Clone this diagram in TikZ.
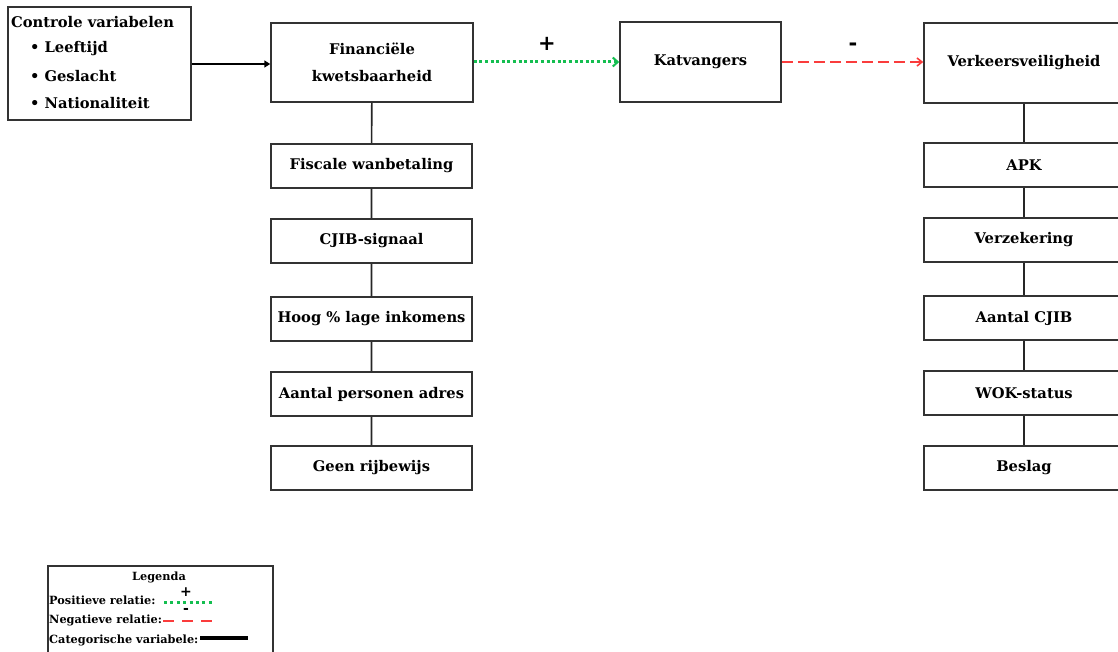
\documentclass[tikz,border=0pt]{standalone}
\usepackage{fontspec}
\setmainfont{DejaVu Serif}
\newfontfamily\signfont{DejaVu Sans}
\usetikzlibrary{arrows.meta}
\definecolor{posgreen}{RGB}{20,190,80}
\definecolor{negred}{RGB}{250,60,60}
\tikzset{
  box/.style={draw=black!80, line width=1.5pt, inner sep=0pt, font=\bfseries\fontsize{14.7}{27}\selectfont, align=center},
  colbox/.style={box, minimum width=201pt, minimum height=44pt},
  txt/.style={inner sep=0pt, font=\bfseries\fontsize{14.7}{17}\selectfont, anchor=west},
  legtxt/.style={inner sep=0pt, font=\bfseries\fontsize{11.3}{13}\selectfont, anchor=west},
  catline/.style={draw=black!85, line width=1.6pt},
  posline/.style={draw=posgreen, line width=3pt, dash pattern=on 3pt off 2.6pt},
  negline/.style={draw=negred, line width=1.9pt, dash pattern=on 11pt off 5pt},
  sign/.style={inner sep=0pt, font=\signfont\bfseries\fontsize{21}{21}\selectfont},
}
\begin{document}
\begin{tikzpicture}[x=1pt,y=-1pt]
\clip (0,0) rectangle (1118,652);
\fill[white] (0,0) rectangle (1118,652);
% control box
\node[draw=black!80, line width=1.5pt, minimum width=183pt, minimum height=113pt, inner sep=0pt] (ctrl) at (99.5,63.5) {};
\node[txt] (ctitle) at (11,22) {Controle variabelen};
\node[txt] (c1) at (30,49) {\textbullet\hspace{5pt}Leeftijd};
\node[txt] (c2) at (30,76) {\textbullet\hspace{5pt}Geslacht};
\node[txt] (c3) at (30,103) {\textbullet\hspace{5pt}Nationaliteit};
% top row
\node[box, minimum width=202pt, minimum height=79pt] (fin) at (372,62.5) {Financi\"ele\\kwetsbaarheid};
\node[box, minimum width=161pt, minimum height=80pt] (kat) at (700.5,62) {Katvangers};
\node[box, minimum width=200pt, minimum height=80pt] (verk) at (1024,63) {Verkeersveiligheid};
% left column
\node[colbox] (fis) at (371.5,166) {Fiscale wanbetaling};
\node[colbox] (cjib) at (371.5,241) {CJIB-signaal};
\node[colbox] (hoog) at (371.5,319) {Hoog \% lage inkomens};
\node[colbox] (aant) at (371.5,394) {Aantal personen adres};
\node[colbox] (geen) at (371.5,468) {Geen rijbewijs};
% right column
\node[colbox, minimum width=200pt] (apk) at (1024,165) {APK};
\node[colbox, minimum width=200pt] (verz) at (1024,240) {Verzekering};
\node[colbox, minimum width=200pt] (acjib) at (1024,318) {Aantal CJIB};
\node[colbox, minimum width=200pt] (wok) at (1024,393) {WOK-status};
\node[colbox, minimum width=200pt] (besl) at (1024,468) {Beslag};
% connectors
\draw[line width=1.6pt, -{Triangle[length=6pt,width=7pt]}] (ctrl.east |- 0,64) -- (fin.west |- 0,64);
\draw[posline, -{Straight Barb[length=5pt,width=9pt,line width=2pt]}] (fin.east |- 0,62) -- (kat.west |- 0,62);
\draw[negline, -{Straight Barb[length=5pt,width=8pt,line width=1.6pt]}] (kat.east |- 0,62) -- (verk.west |- 0,62);
\node[sign] (plus) at (547,44) {+};
\node[sign] (minus) at (853,47) {-};
\draw[catline] (fin) -- (fis) (fis) -- (cjib) (cjib) -- (hoog) (hoog) -- (aant) (aant) -- (geen);
\draw[catline] (verk) -- (apk) (apk) -- (verz) (verz) -- (acjib) (acjib) -- (wok) (wok) -- (besl);
% legend
\node[draw=black!80, line width=1.5pt, minimum width=225pt, minimum height=100pt, inner sep=0pt, anchor=north west] (leg) at (47,565) {};
\node[inner sep=0pt, font=\bfseries\fontsize{11.3}{13}\selectfont] (legt) at (159,577) {Legenda};
\node[legtxt] (lpos) at (49,600) {Positieve relatie:};
\node[legtxt] (lneg) at (49,620) {Negatieve relatie:};
\node[legtxt] (lcat) at (49,640) {Categorische variabele:};
\coordinate (p1) at (164,602); \coordinate (p2) at (213,602);
\coordinate (n1) at (163,621); \coordinate (n2) at (212,621);
\coordinate (k1) at (200,638); \coordinate (k2) at (248,638);
\draw[posline, line width=3pt, dash pattern=on 3pt off 3.4pt] (p1) -- (p2);
\draw[negline, line width=2.6pt, dash pattern=on 11pt off 8pt] (n1) -- (n2);
\draw[black, line width=3.6pt] (k1) -- (k2);
\node[sign, font=\signfont\bfseries\fontsize{14}{14}\selectfont] (lplus) at (186,592) {+};
\node[sign, font=\signfont\bfseries\fontsize{14}{14}\selectfont] (lminus) at (186,611) {-};
\end{tikzpicture}
\end{document}
